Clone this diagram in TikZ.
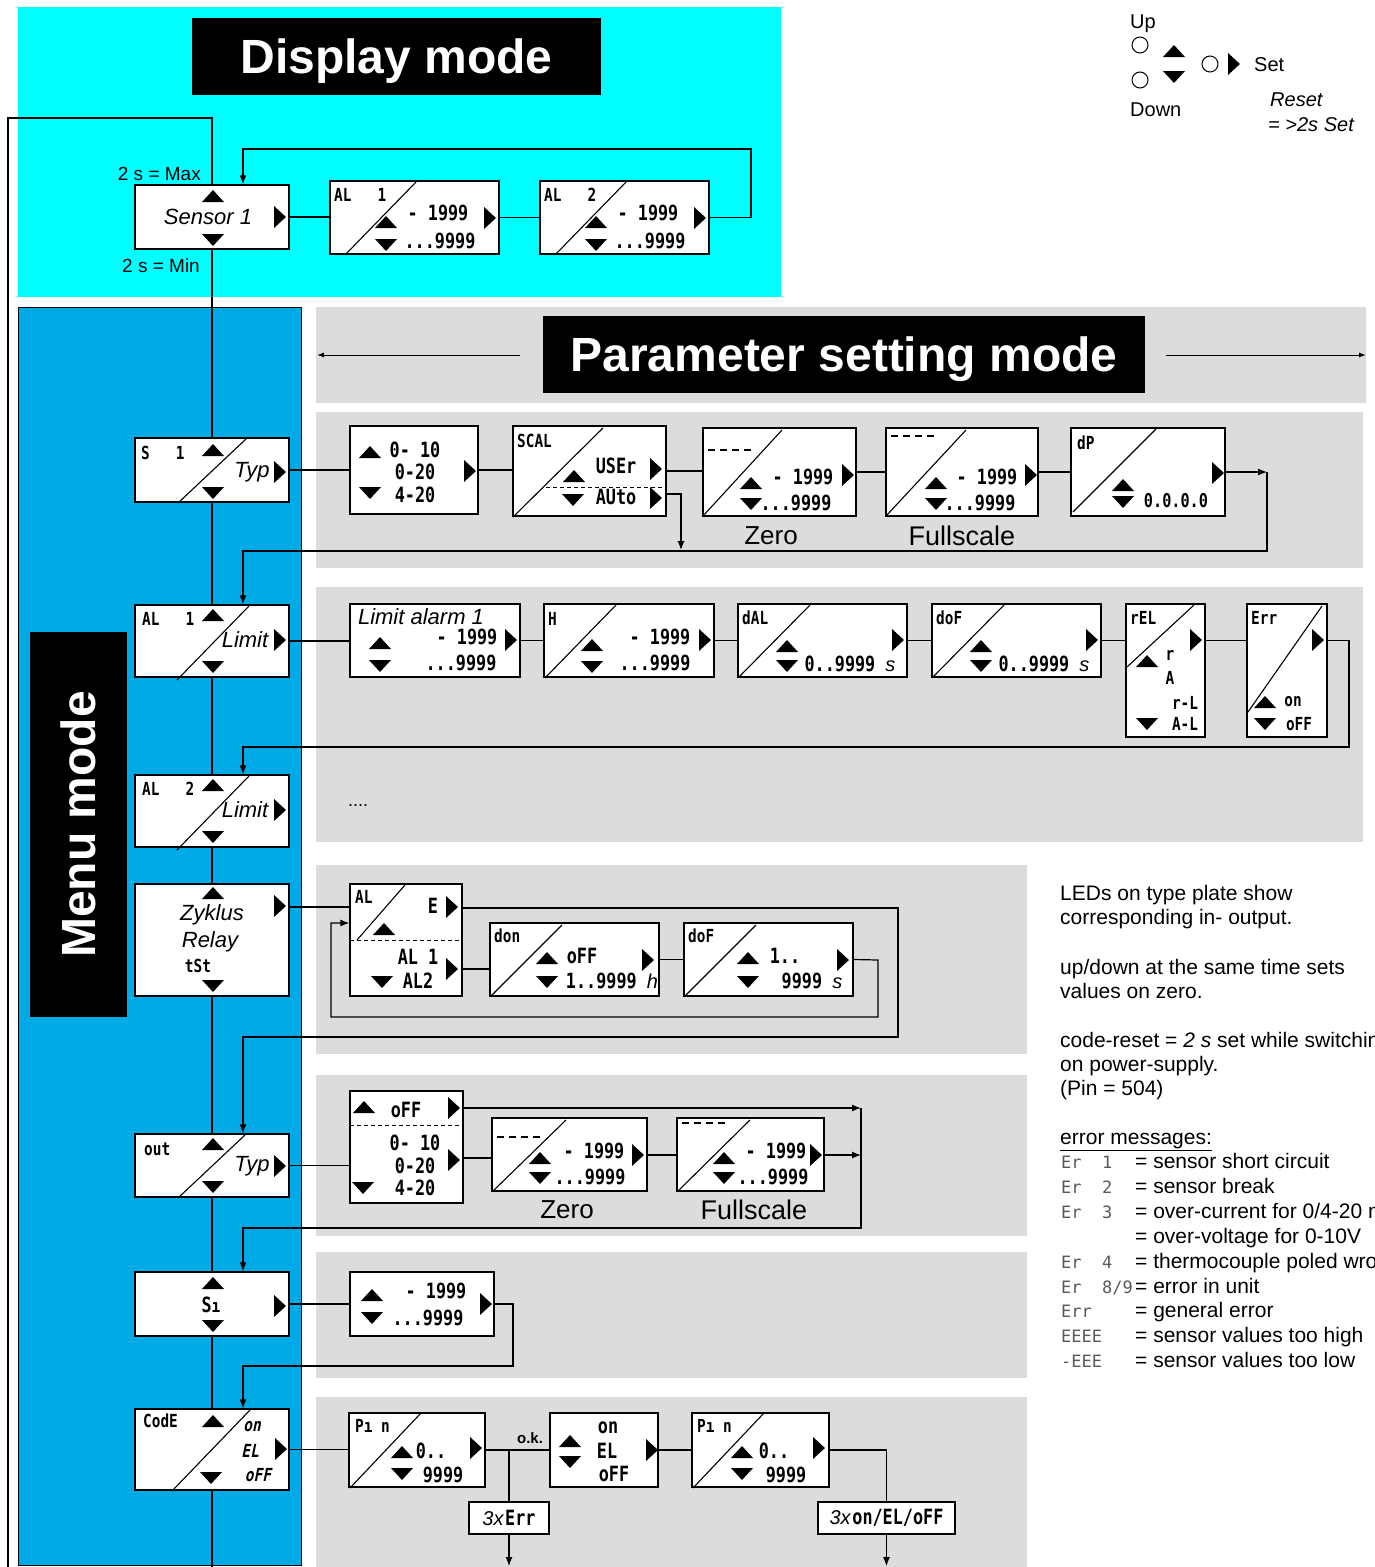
\documentclass[tikz,border=0pt]{standalone}
\usepackage{fontspec}
\setmainfont{Liberation Sans}
\newfontfamily\segf[FakeStretch=0.8]{DejaVu Sans Mono}
\newfontfamily\segif[FakeStretch=0.8,FakeSlant=0.2]{DejaVu Sans Mono}
\newfontfamily\segw{DejaVu Sans Mono}
\usetikzlibrary{arrows.meta,calc}
\pgfdeclarelayer{bg}
\pgfdeclarelayer{ln}
\pgfsetlayers{bg,ln,main}
\definecolor{cyanbg}{RGB}{0,255,255}
\definecolor{menublue}{RGB}{0,170,230}
\definecolor{panelgray}{RGB}{220,220,220}
\newcommand\fs[1]{\fontsize{#1}{#1}\selectfont}
\newcommand\sgv{\segf\bfseries\fs{21}}
\newcommand\sgl{\segf\bfseries\fs{18}}
\newcommand\sgi{\segif\bfseries\fs{18}}
\newcommand\sgc{\segw\fs{17}\color{black!65}}
\tikzset{
  box/.style={draw,fill=white,line width=1.2pt,inner sep=0pt},
  ln/.style={line width=1.2pt},
  arr/.style={line width=1.2pt,-{Latex[length=9pt,width=7pt]}},
  dg/.style={line width=1.1pt},
  dsh/.style={line width=1.1pt,dash pattern=on 7pt off 5pt},
  lbl/.style={inner sep=0pt},
  titlebox/.style={fill=black,text=white,inner sep=0pt,text depth=0pt,font=\bfseries\fs{48}},
  uptri/.pic={\fill (-11,6)--(11,6)--(0,-6)--cycle;},
  dntri/.pic={\fill (-11,-6)--(11,-6)--(0,6)--cycle;},
  rttri/.pic={\fill (-6,-11)--(-6,11)--(6,0)--cycle;},
}
\newcommand\bx[5]{\node[box,minimum width={(#4)-(#2)},minimum height={(#5)-(#3)}] (#1) at ({((#2)+(#4))/2},{((#3)+(#5))/2}) {};}
\newcommand\TU[1]{\pic at (#1) {uptri};}
\newcommand\TD[1]{\pic at (#1) {dntri};}
\newcommand\TR[1]{\pic at (#1) {rttri};}
\newcommand\tx[3]{\node[lbl] (#1) at (#2) {#3};}
\newcommand\tnw[3]{\node[lbl,anchor=north west] (#1) at (#2) {#3};}
\newcommand\tbw[3]{\node[lbl,anchor=base west] (#1) at (#2) {#3};}
\begin{document}
\begin{tikzpicture}[x=1pt,y=-1pt]
\useasboundingbox (0,0) rectangle (1375,1567);
\clip (0,0) rectangle (1375,1567);
% ---------------- backgrounds
\begin{pgfonlayer}{bg}
\fill[white] (0,0) rectangle (1375,1567);
\fill[cyanbg] (18,7) rectangle (781,297);
\filldraw[fill=menublue,draw=black,line width=1pt] (18,307) rectangle (301,1565);
\fill[panelgray] (316,307) rectangle (1366,403);
\fill[panelgray] (316,412) rectangle (1363,568);
\fill[panelgray] (316,587) rectangle (1363,842);
\fill[panelgray] (316,865) rectangle (1027,1054);
\fill[panelgray] (316,1075) rectangle (1027,1236);
\fill[panelgray] (316,1252) rectangle (1027,1378);
\fill[panelgray] (316,1397) rectangle (1027,1567);
\end{pgfonlayer}
% ---------------- titles
\node[titlebox,minimum width=409,minimum height=77] (dm) at (396.5,56.5) {Display mode};
\node[titlebox,minimum width=602,minimum height=77] (pm) at (844,354.5) {Parameter setting mode};
\node[titlebox,rotate=90,minimum width=385,minimum height=97] (mm) at (78.5,824.5) {Menu mode};
% ---------------- display mode
\bx{sen}{135}{185}{289}{249}
\bx{ald1}{330}{181}{499}{254}
\bx{ald2}{540}{181}{709}{254}
\TU{213,196} \TD{213,240} \TR{280,217}
\tx{sent}{208,217}{\itshape\fs{22}Sensor 1}
\node[lbl,anchor=east] (mx) at (201,174) {\fs{19}2 s = Max};
\node[lbl,anchor=east] (mn) at (200,266) {\fs{19}2 s = Min};
\draw[dg] (345,255)--(416,182);
\tnw{ald1l}{334,188}{\sgl AL~~~1}
\TU{386,222} \TD{386,245} \TR{490,218}
\tx{ald1a}{438,213}{\sgv -~1999}
\tx{ald1b}{440,241}{\sgv ...9999}
\draw[dg] (555,255)--(626,182);
\tnw{ald2l}{544,188}{\sgl AL~~~2}
\TU{596,222} \TD{596,245} \TR{700,218}
\tx{ald2a}{648,213}{\sgv -~1999}
\tx{ald2b}{650,241}{\sgv ...9999}
% ---------------- menu column
\bx{s1m}{135}{438}{289}{502}
\bx{al1m}{135}{605}{289}{677}
\bx{al2m}{135}{775}{289}{847}
\bx{zyk}{135}{884}{289}{996}
\bx{outm}{135}{1134}{289}{1197}
\bx{sim}{135}{1272}{289}{1336}
\bx{code}{135}{1409}{289}{1490}
% S1
\tnw{s1l}{141,446}{\sgl S~~~1}
\TU{213,450} \TD{213,493} \TR{280,472}
\draw[dg] (178,503)--(246,439);
\tx{s1t}{252,472}{\itshape\fs{22}Typ}
% AL1
\tnw{al1ml}{142,612}{\sgl AL~~~1}
\TU{213,615} \TD{213,667} \TR{280,640}
\draw[dg] (177,680)--(249,606);
\tx{al1mt}{245,640}{\itshape\fs{22}Limit}
% AL2
\tnw{al2ml}{142,782}{\sgl AL~~~2}
\TU{213,785} \TD{213,837} \TR{280,810}
\draw[dg] (177,850)--(249,776);
\tx{al2mt}{245,810}{\itshape\fs{22}Limit}
% Zyklus
\TU{213,893} \TD{213,986} \TR{280,906}
\tx{zyk1}{212,915}{\itshape\fs{22}Zyklus}
\tx{zyk2}{210,942}{\itshape\fs{22}Relay}
\tx{zyk3}{198,966}{\sgl tSt}
% out
\tnw{outl}{144,1143}{\sgl out}
\TU{213,1144} \TD{213,1187} \TR{280,1166}
\draw[dg] (178,1198)--(245,1135);
\tx{outt}{252,1166}{\itshape\fs{22}Typ}
% Si
\TU{213,1283} \TD{213,1326} \TR{280,1306}
\tx{simt}{211,1305}{\sgv S\sgl ı}
% CodE
\tnw{codel}{143,1414}{\sgl CodE}
\TU{213,1421} \TD{211,1478} \TR{281,1449}
\draw[dg] (172,1491)--(250,1410);
\tx{code1}{252,1427}{\sgi on}
\tx{code2}{250,1451}{\sgi EL}
\tx{code3}{258,1475}{\sgi oFF}
% ---------------- row S1
\bx{rng1}{350}{426}{478}{514}
\TU{370,452} \TD{370,493} \TR{470,471}
\tx{r1a}{415,450}{\sgv 0-~10}
\tx{r1b}{415,472}{\sgv 0-20}
\tx{r1c}{415,495}{\sgv 4-20}
\bx{scal}{513}{426}{666}{516}
\tnw{scl}{517,434}{\sgl SCAL}
\draw[dg] (513,517)--(603,428);
\draw[line width=1pt,dash pattern=on 4pt off 3pt] (546,487)--(666,487);
\TU{574,476} \TR{656,469}
\tx{scu}{616,466}{\sgv USEr}
\TD{573,500} \TR{656,498}
\tx{sca}{616,497}{\sgv AUto}
\bx{zero1}{703}{428}{856}{516}
\draw[dsh] (708,450)--(753,450);
\draw[dg] (703,516)--(782,430);
\TU{751,483} \TD{751,504} \TR{848,475}
\tx{z1a}{803,477}{\sgv -~1999}
\tx{z1b}{796,503}{\sgv ...9999}
\tx{z1l}{771,536}{\fs{26}Zero}
\bx{fs1}{886}{428}{1038}{516}
\draw[dsh] (891,436)--(936,436);
\draw[dg] (886,516)--(966,430);
\TU{936,483} \TD{936,504} \TR{1031,475}
\tx{f1a}{987,477}{\sgv -~1999}
\tx{f1b}{980,503}{\sgv ...9999}
\tx{f1l}{962,536}{\fs{27}Fullscale}
\bx{dp}{1071}{428}{1225}{516}
\tnw{dpl}{1077,436}{\sgl dP}
\draw[dg] (1073,512)--(1156,429);
\TU{1123,485} \TD{1123,502} \TR{1218,473}
\tx{dpv}{1176,501}{\segf\bfseries\fs{19}0.0.0.0}
% ---------------- row AL1
\bx{lim1}{350}{604}{520}{677}
\tx{lim1t}{421,617}{\itshape\fs{22}Limit alarm 1}
\TU{380,643} \TD{380,666} \TR{511,640}
\tx{lim1a}{467,637}{\sgv -~1999}
\tx{lim1b}{461,663}{\sgv ...9999}
\bx{hb}{544}{604}{714}{677}
\tnw{hbl}{548,612}{\sgl H}
\draw[dg] (545,678)--(616,605);
\TU{592,645} \TD{592,667} \TR{705,640}
\tx{hba}{660,637}{\sgv -~1999}
\tx{hbb}{655,663}{\sgv ...9999}
\bx{dal}{738}{604}{907}{677}
\tnw{dall}{742,611}{\sgl dAL}
\draw[dg] (739,677)--(810,605);
\TU{787,646} \TD{787,666} \TR{898,640}
\tx{dalv}{850,664}{\sgv 0..9999~{\normalfont\itshape\fs{20}s}}
\bx{dof1}{932}{604}{1101}{677}
\tnw{dof1l}{936,611}{\sgl doF}
\draw[dg] (933,677)--(1004,605);
\TU{981,646} \TD{981,666} \TR{1092,640}
\tx{dof1v}{1044,664}{\sgv 0..9999~{\normalfont\itshape\fs{20}s}}
\bx{rel}{1126}{604}{1205}{737}
\tnw{rell}{1130,611}{\sgl rEL}
\draw[dg] (1127,667)--(1194,605);
\TU{1147,661} \TD{1147,724} \TR{1196,640}
\tx{rel1}{1170,655}{\sgl r}
\tx{rel2}{1170,678}{\sgl A}
\tx{rel3}{1185,703}{\sgl r-L}
\tx{rel4}{1185,724}{\sgl A-L}
\bx{err}{1247}{604}{1327}{737}
\tnw{errl}{1251,611}{\sgl Err}
\draw[dg] (1248,712)--(1322,606);
\TU{1265,702} \TD{1265,724} \TR{1318,640}
\tx{err1}{1293,702}{\sgl on}
\tx{err2}{1299,724}{\sgl oFF}
% AL2 row
\tx{dots}{358,806}{\fs{18}....}
% ---------------- row Zyklus
\bx{alE}{350}{884}{462}{996}
\tnw{alEl}{355,890}{\sgl AL}
\tx{alEe}{433,906}{\sgv E}
\TR{452,907}
\draw[dg] (357,940)--(405,885);
\TU{384,929}
\draw[line width=1pt,dash pattern=on 4pt off 3pt] (350,940)--(462,940);
\tx{alE1}{418,957}{\sgv AL~1}
\tx{alE2}{418,981}{\sgv AL2}
\TD{382,982} \TR{452,969}
\bx{don}{490}{923}{659}{996}
\tnw{donl}{494,929}{\sgl don}
\draw[dg] (491,996)--(562,925);
\TU{547,958} \TD{547,982} \TR{648,960}
\tx{don1}{582,956}{\sgv oFF}
\tx{don2}{612,981}{\sgv 1..9999~{\normalfont\itshape\fs{20}h}}
\bx{dof2}{684}{923}{853}{996}
\tnw{dof2l}{688,929}{\sgl doF}
\draw[dg] (685,996)--(756,925);
\TU{748,958} \TD{748,982} \TR{843,960}
\tx{dof2a}{785,956}{\sgv 1..}
\tx{dof2b}{812,981}{\sgv 9999~{\normalfont\itshape\fs{20}s}}
% ---------------- row out
\bx{rng2}{350}{1091}{463}{1203}
\TU{364,1107} \TR{454,1108}
\tx{r2o}{406,1110}{\sgv oFF}
\draw[line width=1pt,dash pattern=on 4pt off 3pt] (350,1125)--(463,1125);
\tx{r2a}{415,1143}{\sgv 0-~10}
\tx{r2b}{415,1166}{\sgv 0-20}
\tx{r2c}{415,1188}{\sgv 4-20}
\TD{363,1188} \TR{454,1160}
\bx{zero2}{492}{1118}{647}{1191}
\draw[dsh] (497,1137)--(541,1137);
\draw[dg] (493,1191)--(566,1120);
\TU{540,1158} \TD{540,1178} \TR{638,1155}
\tx{z2a}{594,1151}{\sgv -~1999}
\tx{z2b}{590,1177}{\sgv ...9999}
\tx{z2l}{567,1210}{\fs{26}Zero}
\bx{fs2}{677}{1118}{824}{1191}
\draw[dsh] (682,1123)--(726,1123);
\draw[dg] (678,1191)--(750,1120);
\TU{724,1158} \TD{724,1178} \TR{816,1155}
\tx{f2a}{776,1151}{\sgv -~1999}
\tx{f2b}{773,1177}{\sgv ...9999}
\tx{f2l}{754,1210}{\fs{27}Fullscale}
% ---------------- row Si
\bx{rng3}{350}{1272}{494}{1336}
\TU{372,1295} \TD{372,1318} \TR{486,1304}
\tx{r3a}{436,1291}{\sgv -~1999}
\tx{r3b}{428,1318}{\sgv ...9999}
% ---------------- row CodE
\bx{pin1}{349}{1413}{485}{1487}
\tnw{p1l}{355,1419}{\sgl Pı~n}
\draw[dg] (350,1488)--(421,1413);
\TU{402,1452} \TD{402,1474} \TR{476,1448}
\tx{p1a}{431,1451}{\sgv 0..}
\tx{p1b}{443,1475}{\sgv 9999}
\bx{onel}{550}{1413}{658}{1487}
\TU{570,1441} \TD{570,1462} \TR{652,1450}
\tx{oe1}{608,1428}{\sgv on}
\tx{oe2}{607,1451}{\sgv EL}
\tx{oe3}{614,1474}{\sgv oFF}
\bx{pin2}{692}{1413}{829}{1487}
\tnw{p2l}{697,1419}{\sgl Pı~n}
\draw[dg] (693,1488)--(764,1413);
\TU{742,1452} \TD{742,1474} \TR{819,1448}
\tx{p2a}{774,1451}{\sgv 0..}
\tx{p2b}{786,1475}{\sgv 9999}
\bx{err3}{469}{1502}{549}{1534}
\tx{err3t}{509,1518}{{\itshape\fs{20}3x}\,\sgv Err}
\bx{oel3}{818}{1502}{955}{1534}
\tx{oel3t}{886.5,1518}{{\itshape\fs{20}3x}\,\sgv on/EL/oFF}
\tx{okt}{530,1438}{\bfseries\fs{15}o.k.}
% ---------------- connectors
\coordinate (tl) at (8,118);
\coordinate (bl) at (8,1567);
\coordinate (spb) at (212,1567);
\begin{pgfonlayer}{ln}
\draw[ln] (bl) -- (tl) -| (sen.north);
\draw[ln] (sen.south) -- (s1m.north);
\draw[ln] (s1m.south) -- (al1m.north);
\draw[ln] (al1m.south) -- (al2m.north);
\draw[ln] (al2m.south) -- (zyk.north);
\draw[ln] (zyk.south) -- (outm.north);
\draw[ln] (outm.south) -- (sim.north);
\draw[ln] (sim.south) -- (code.north);
\draw[ln] (code.south) -- (spb);
% display loop
\draw[ln] (sen.east) -- (sen.east -| ald1.west);
\draw[ln] (ald1.east) -- (ald2.west);
\coordinate (dl) at (751,149);
\draw[arr] (ald2.east) -| (dl) -| ($(sen.north)+(31,0)$);
% parameter arrows
\coordinate (pmL) at (520,355);
\coordinate (pmLe) at (317,355);
\coordinate (pmR) at (1166,355);
\coordinate (pmRe) at (1366,355);
\draw[line width=1pt,-{Latex[length=7pt,width=5pt]}] (pmL) -- (pmLe);
\draw[line width=1pt,-{Latex[length=7pt,width=5pt]}] (pmR) -- (pmRe);
% row S1
\draw[ln] (s1m.east) -- (s1m.east -| rng1.west);
\draw[ln] (rng1.east) -- (rng1.east -| scal.west);
\draw[ln] (scal.east) -- (scal.east -| zero1.west);
\draw[ln] (zero1.east) -- (zero1.east -| fs1.west);
\draw[ln] (fs1.east) -- (fs1.east -| dp.west);
\coordinate (au) at (681,550);
\draw[arr] (scal.east |- 0,494) -| (au);
\coordinate (r1e) at (1267,472);
\coordinate (r1d) at (1267,551);
\draw[arr] (dp.east) -- (dp.east -| r1e);
\draw[arr] (r1e) -- (r1d) -| ($(al1m.north)+(31,0)$);
% row AL1
\draw[ln] (al1m.east) -- (al1m.east -| lim1.west);
\draw[ln] (lim1.east) -- (lim1.east -| hb.west);
\draw[ln] (hb.east) -- (hb.east -| dal.west);
\draw[ln] (dal.east) -- (dal.east -| dof1.west);
\draw[ln] (dof1.east) -- (dof1.east -| rel.west);
\draw[ln] (rel.east |- dof1.east) -- (err.west |- dof1.east);
\coordinate (r2e) at (1349,640.5);
\coordinate (r2d) at (1349,747);
\draw[arr] (err.east |- r2e) -- (r2e) -- (r2d) -| ($(al2m.north)+(31,0)$);
% row Zyklus
\draw[ln] (zyk.east |- 0,907) -- (alE.west |- 0,907);
\coordinate (z1) at (898,908);
\coordinate (z2) at (898,1037);
\draw[arr] (alE.east |- z1) -- (z1) -- (z2) -| ($(outm.north)+(31,0)$);
\draw[ln] (alE.east |- 0,969) -- (don.west |- 0,969);
\draw[ln] (don.east) -- (dof2.west);
\coordinate (z3) at (878,960);
\coordinate (z4) at (878,1017);
\coordinate (z5) at (331,1017);
\draw[arr] (dof2.east) -- (z3) -- (z4) -- (z5) |- (alE.west |- 0,923);
% row out
\draw[ln] (outm.east) -- (outm.east -| rng2.west);
\coordinate (o1) at (861,1108);
\coordinate (o2) at (861,1155);
\coordinate (o3) at (861,1228);
\draw[arr] (rng2.east |- o1) -- (o1);
\draw[ln] (rng2.east |- 0,1158) -- (zero2.west |- 0,1158);
\draw[ln] (zero2.east |- o2) -- (fs2.west |- o2);
\draw[arr] (fs2.east |- o2) -- (o2);
\draw[arr] (o1) -- (o3) -| ($(sim.north)+(31,0)$);
% row Si
\draw[ln] (sim.east) -- (sim.east -| rng3.west);
\coordinate (si1) at (513,1304);
\coordinate (si2) at (513,1366);
\draw[arr] (rng3.east) -- (si1) -- (si2) -| ($(code.north)+(31,0)$);
% row CodE
\draw[ln] (code.east) -- (code.east -| pin1.west);
\draw[ln] (pin1.east) -- (onel.west);
\coordinate (okj) at (509,1450);
\draw[ln] (okj) -- (err3.north);
\coordinate (eb1) at (509,1566);
\draw[arr] (err3.south) -- (eb1);
\draw[ln] (onel.east) -- (pin2.west);
\coordinate (pk) at (886.5,1450);
\draw[ln] (pin2.east) -- (pk) -- (oel3.north);
\coordinate (eb2) at (886.5,1566);
\draw[arr] (oel3.south) -- (eb2);
\end{pgfonlayer}
% ---------------- legend top right
\draw[line width=1pt] (1140,45) circle (8);
\draw[line width=1pt] (1140,80) circle (8);
\draw[line width=1pt] (1210,64) circle (8);
\TU{1174,51} \TD{1174,77} \TR{1234,64}
\tbw{lup}{1130,28}{\fs{20}Up}
\tbw{ldn}{1130,116}{\fs{20}Down}
\tbw{lset}{1254,71}{\fs{20}Set}
\tbw{lres}{1270,106}{\itshape\fs{20}Reset}
\tbw{lres2}{1268,131}{\itshape\fs{20}= >2s Set}
% ---------------- notes
\tbw{n1}{1060,900}{\fs{21}LEDs on type plate show}
\tbw{n2}{1060,924}{\fs{21}corresponding in- output.}
\tbw{n3}{1060,974}{\fs{21}up/down at the same time sets}
\tbw{n4}{1060,998}{\fs{21}values on zero.}
\tbw{n5}{1060,1047}{\fs{21}code-reset = \textit{2 s} set while switching}
\tbw{n6}{1060,1071}{\fs{21}on power-supply.}
\tbw{n7}{1060,1095}{\fs{21}(Pin = 504)}
\tbw{n8}{1060,1144}{\fs{21}\underline{error messages:}}
\tbw{c1}{1061,1168}{\sgc Er~~1}
\tbw{c2}{1061,1193}{\sgc Er~~2}
\tbw{c3}{1061,1218}{\sgc Er~~3}
\tbw{c4}{1061,1268}{\sgc Er~~4}
\tbw{c5}{1061,1293}{\sgc Er~~8/9}
\tbw{c6}{1061,1317}{\sgc Err}
\tbw{c7}{1061,1342}{\sgc EEEE}
\tbw{c8}{1061,1367}{\sgc -EEE}
\tbw{e1}{1135,1168}{\fs{21}= sensor short circuit}
\tbw{e2}{1135,1193}{\fs{21}= sensor break}
\tbw{e3}{1135,1218}{\fs{21}= over-current for 0/4-20 mA}
\tbw{e3b}{1135,1243}{\fs{21}= over-voltage for 0-10V}
\tbw{e4}{1135,1268}{\fs{21}= thermocouple poled wrong}
\tbw{e5}{1135,1293}{\fs{21}= error in unit}
\tbw{e6}{1135,1317}{\fs{21}= general error}
\tbw{e7}{1135,1342}{\fs{21}= sensor values too high}
\tbw{e8}{1135,1367}{\fs{21}= sensor values too low}
\end{tikzpicture}
\end{document}
